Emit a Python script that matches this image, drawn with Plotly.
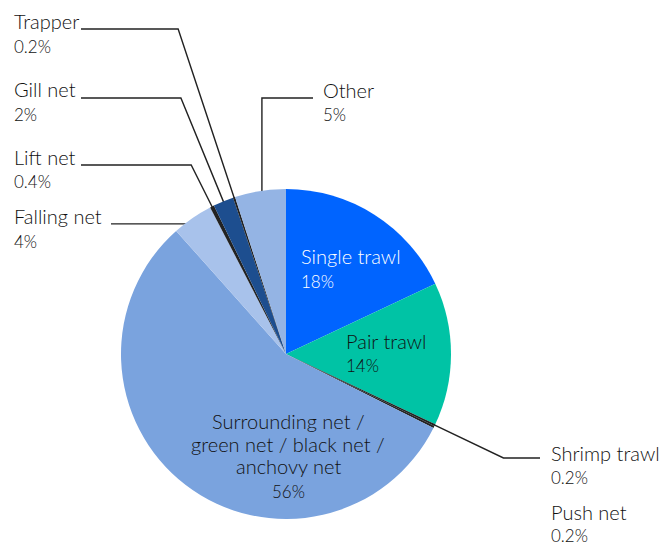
import math
import plotly.graph_objects as go

W, H = 661, 547

categories = ["Single trawl", "Pair trawl", "Shrimp trawl", "Push net",
              "Surrounding net / green net / black net / anchovy net",
              "Falling net", "Lift net", "Gill net", "Trapper", "Other"]
values = [18, 14, 0.2, 0.2, 56, 4, 0.4, 2, 0.2, 5]
pct_labels = ["18%", "14%", "0.2%", "0.2%", "56%", "4%", "0.4%", "2%", "0.2%", "5%"]
colors = ["#0064ff", "#00c3a5", "#222222", "#222222", "#7aa3de",
          "#a8c2eb", "#222222", "#1d4e8f", "#222222", "#94b4e4"]

# pie geometry (pixels)
CX, CY, R = 286, 354, 165
FONT = "Lato"
TXT = "#111111"

fig = go.Figure()
fig.add_trace(go.Pie(
    labels=categories, values=values, sort=False, direction="clockwise",
    rotation=0, marker=dict(colors=colors, line=dict(width=0)),
    textinfo="none", hoverinfo="label+percent", showlegend=False,
    domain=dict(x=[(CX - R) / W, (CX + R) / W], y=[(H - CY - R) / H, (H - CY + R) / H]),
))

total = sum(values)
cum = 0
mid_angle = {}
for c, v in zip(categories, values):
    mid_angle[c] = (cum + v / 2) / total * 2 * math.pi
    cum += v


def radial(cat, r):
    a = mid_angle[cat]
    return CX + r * math.sin(a), CY - r * math.cos(a)


def radial_to_y(cat, y):
    a = mid_angle[cat]
    r = (CY - y) / math.cos(a)
    return radial(cat, r)


lines_x, lines_y = [], []
dots_x, dots_y = [], []


def add_line(pts):
    for p in pts:
        lines_x.append(p[0]); lines_y.append(p[1])
    lines_x.append(None); lines_y.append(None)


# Trapper: edge -> elbow -> left
e = radial("Trapper", R - 3); k = radial_to_y("Trapper", 29)
add_line([e, k, (81, 29)])
# Gill net: dot -> elbow -> left
d = radial("Gill net", 155); k = radial_to_y("Gill net", 98)
add_line([d, k, (81, 98)]); dots_x.append(d[0]); dots_y.append(d[1])
# Lift net
e = radial("Lift net", R - 3); k = radial_to_y("Lift net", 165)
add_line([e, k, (81, 165)])
# Falling net
d = radial("Falling net", 158)
add_line([d, (111, d[1])]); dots_x.append(d[0]); dots_y.append(d[1])
# Other
d = radial("Other", 154)
add_line([d, (d[0], 98), (313, 98)]); dots_x.append(d[0]); dots_y.append(d[1])
# Shrimp trawl
e = radial("Shrimp trawl", R - 3); k = radial_to_y("Shrimp trawl", 458)
add_line([e, k, (540, 458)])

fig.add_trace(go.Scatter(x=lines_x, y=lines_y, mode="lines",
                         line=dict(color="#222222", width=1.4),
                         hoverinfo="skip", showlegend=False))
fig.add_trace(go.Scatter(x=dots_x, y=dots_y, mode="markers",
                         marker=dict(color="#111111", size=7),
                         hoverinfo="skip", showlegend=False))


def ann(text, x, y, size, color=TXT, anchor="left"):
    fig.add_annotation(text=text, x=x / W, y=1 - y / H, xref="paper", yref="paper",
                       xanchor=anchor, yanchor="middle", showarrow=False,
                       font=dict(family=FONT, size=size, color=color, weight=300))


NS, PS = 20, 17
outside = [("Trapper", 12, 21, 46), ("Gill net", 12, 89, 114), ("Lift net", 12, 157, 181),
           ("Falling net", 12, 216, 241), ("Other", 321, 90, 115),
           ("Shrimp trawl", 549, 453, 478), ("Push net", 549, 512, 535)]
for name, x, y1, y2 in outside:
    ann(name, x, y1, NS)
    ann(pct_labels[categories.index(name)], x, y2, PS)

ann("Single trawl", 299, 256, NS, "#ffffff")
ann(pct_labels[0], 299, 281, PS, "#ffffff")
ann("Pair trawl", 344, 341, NS)
ann(pct_labels[1], 344, 365, PS)
surr_lines = ["Surrounding net /", "green net / black net /", "anchovy net"]
for i, t in enumerate(surr_lines):
    ann(t, 288, 421 + i * 22.5, NS, anchor="center")
ann(pct_labels[4], 288, 492, PS, anchor="center")

fig.update_layout(
    width=W, height=H, margin=dict(l=0, r=0, t=0, b=0),
    paper_bgcolor="white", plot_bgcolor="rgba(0,0,0,0)",
    xaxis=dict(range=[0, W], visible=False, domain=[0, 1], fixedrange=True),
    yaxis=dict(range=[H, 0], visible=False, domain=[0, 1], fixedrange=True),
)
fig.write_html("out.html", config={"displayModeBar": False},
               post_script="document.body.style.margin='0';")
